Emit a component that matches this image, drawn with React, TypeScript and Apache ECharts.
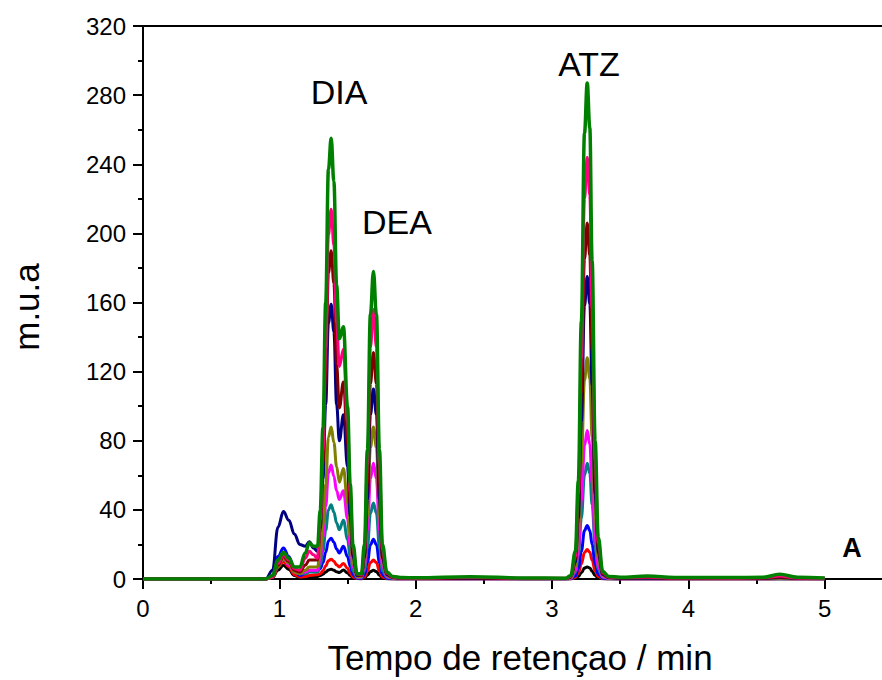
import React, { useEffect, useRef } from "react";
import * as echarts from "echarts";

// retention time grid (min)
const time = [
  0, 0.5, 0.9, 0.95, 0.99, 1.03, 1.07, 1.11, 1.15, 1.19, 1.22, 1.25, 1.28,
  1.30, 1.32, 1.34, 1.36, 1.38, 1.40, 1.42, 1.44, 1.47, 1.50, 1.52, 1.54, 1.57,
  1.602, 1.624, 1.646, 1.668, 1.69, 1.712, 1.734, 1.756, 1.789, 1.833, 1.899,
  2.0, 2.4, 2.8, 3.10, 3.137,
  3.171, 3.193, 3.215, 3.238, 3.258, 3.277, 3.294, 3.316, 3.339, 3.372, 3.417, 3.50,
  3.7, 3.9, 4.3, 4.55, 4.67, 4.8, 5.0,
];

const blackVals = [
  0, 0, 0, 1, 5, 8, 5.5, 2, 1, 1, 1.5, 1.5, 1.5,
  2, 2.8, 4, 5.2, 5.6, 5, 4.2, 3.7, 5.2, 3.6, 2, 0.8, 0.3,
  0.1, 0.55, 2.1, 4.3, 5, 4.3, 2.1, 0.55, 0.1, 0, 0,
  0, 0, 0, 0, 0.1,
  0.4, 1.4, 3.6, 6.3, 7, 6.4, 4.5, 2, 0.6, 0.1, 0, 0,
  0, 0, 0, 0, 0, 0, 0,
];
const redVals = [
  0, 0, 0, 1, 7, 10, 7, 2.5, 1.2, 1.5, 2, 2.3, 2.5,
  3, 4.8, 7.5, 10.6, 11.4, 10.3, 8.2, 7, 9, 6.2, 3.4, 1.2, 0.3,
  0.2, 1.2, 4.6, 9.5, 11, 9.5, 4.6, 1.2, 0.3, 0.1, 0,
  0, 0.1, 0, 0, 0.1,
  0.9, 3.4, 8.8, 15.3, 17, 15.5, 10.9, 4.8, 1.4, 0.3, 0.1, 0,
  0.1, 0, 0, 0, 0.1, 0, 0,
];
const blueVals = [
  0, 0, 0, 2, 13, 18, 13, 5, 2, 3, 4.5, 4.5, 4.5,
  6, 9.5, 15.5, 22, 23.6, 21.2, 17.3, 15, 19, 13, 7.2, 2.6, 0.5,
  0.4, 2.5, 9.7, 19.8, 23, 19.8, 9.7, 2.5, 0.5, 0.1, 0.1,
  0.1, 0.1, 0.1, 0.1, 0.2,
  1.7, 6.2, 16, 28, 31, 28, 20, 8.7, 2.6, 0.5, 0.2, 0.1,
  0.1, 0.1, 0.1, 0.1, 0.2, 0.1, 0.1,
];
const tealVals = [
  0, 0, 0, 1, 8, 12, 9, 4, 3, 3, 4, 4, 4,
  8, 16, 28, 40, 43, 38.7, 32.4, 28.5, 34, 23, 13, 4.7, 0.8,
  0.8, 4.8, 18.5, 38, 44, 38, 18.5, 4.8, 1, 0.3, 0.1,
  0.1, 0.1, 0.1, 0.1, 0.3,
  3.7, 13.4, 35, 60, 67, 61, 43, 19, 5.7, 1, 0.3, 0.1,
  0.1, 0.1, 0.1, 0.1, 0.2, 0.1, 0.1,
];
const magentaVals = [
  0, 0, 0, 1, 8, 12, 8, 4, 3, 4, 5, 5, 5,
  12, 24, 42, 61.4, 66, 59.4, 51, 46, 51, 35, 19, 7, 1.2,
  1.2, 7.4, 28, 58, 67, 58, 28, 7.4, 1.5, 0.5, 0.2,
  0.2, 0.2, 0.1, 0.1, 0.5,
  4.7, 17, 45, 77, 86, 78, 55, 24, 7.3, 1.3, 0.4, 0.2,
  0.2, 0.1, 0.1, 0.1, 0.4, 0.1, 0.1,
];
const oliveVals = [
  0, 0, 0, 1, 7, 12, 9, 4, 3, 5, 7, 7, 7,
  16, 31, 55, 82, 88, 79, 65, 56, 64, 44, 24, 9, 1.5,
  1.5, 10, 37, 76, 88, 76, 37, 10, 2, 0.6, 0.3,
  0.2, 0.3, 0.2, 0.2, 0.7,
  7, 26, 67, 115, 128, 116, 82, 36, 11, 2, 0.6, 0.3,
  0.3, 0.2, 0.2, 0.2, 0.5, 0.2, 0.1,
];
const navyVals = [
  0, 0, 0, 5, 30, 39, 34, 26, 20, 19, 21.5, 18, 16,
  29, 58, 101, 148, 159, 143, 101, 80, 95, 65, 36, 13, 2,
  2, 12, 46, 95, 110, 95, 46, 12, 2.5, 0.8, 0.4,
  0.3, 0.4, 0.2, 0.2, 1,
  9.6, 35, 91, 158, 175, 159, 112, 49, 15, 2.6, 0.8, 0.4,
  0.5, 0.3, 0.3, 0.3, 0.8, 0.3, 0.2,
];
const maroonVals = [
  0, 0, 0, 1, 8, 13, 10, 5, 4, 8, 11, 11, 11,
  30, 67, 119, 177, 190, 171, 124, 99, 114, 78, 43, 16, 2.5,
  2, 14, 55, 113, 131, 113, 55, 14, 3, 1, 0.5,
  0.3, 0.6, 0.3, 0.3, 1.2,
  11, 41, 107, 185, 206, 187, 132, 58, 17.5, 3.1, 1, 0.6,
  0.8, 0.4, 0.4, 0.5, 1.2, 0.4, 0.3,
];
const pinkVals = [
  0, 0, 0, 1, 9, 14, 11, 6, 5, 12, 16, 14, 12,
  34, 74, 133, 199, 214, 193, 148, 123, 133, 91, 50, 18, 3,
  2.5, 17, 66, 134, 156, 134, 66, 17, 3.5, 1.2, 0.6,
  0.5, 1.0, 0.5, 0.4, 1.5,
  13, 49, 127, 220, 244, 222, 156, 68, 21, 3.7, 1.2, 0.8,
  1.2, 0.6, 0.5, 0.7, 1.8, 0.6, 0.4,
];
const greenVals = [
  0, 0, 0, 2, 11, 15.5, 12, 7, 7, 15, 21, 19, 19,
  40, 88, 160, 237, 255, 230, 170, 139, 146, 100, 55, 20, 3,
  3, 20, 75, 153, 178, 153, 75, 20, 4, 1.5, 0.8,
  0.7, 1.3, 0.6, 0.5, 2,
  16, 57, 149, 258, 287, 261, 184, 80, 24, 4.3, 1.5, 1.0,
  1.7, 0.9, 0.8, 1.0, 2.8, 1.0, 0.6,
];

const seriesList = [
  { name: "s1", color: "#000000", width: 3, values: blackVals },
  { name: "s2", color: "#FF0000", width: 3, values: redVals },
  { name: "s3", color: "#0000FF", width: 3, values: blueVals },
  { name: "s4", color: "#008080", width: 3, values: tealVals },
  { name: "s5", color: "#FF00FF", width: 3, values: magentaVals },
  { name: "s6", color: "#808000", width: 3, values: oliveVals },
  { name: "s7", color: "#000080", width: 3, values: navyVals },
  { name: "s8", color: "#800000", width: 3, values: maroonVals },
  { name: "s9", color: "#FF007F", width: 3, values: pinkVals },
  { name: "s10", color: "#008000", width: 3.5, values: greenVals },
];

const xMajorTicks = [0, 1, 2, 3, 4, 5];
const xMinorTicks = [0.5, 1.5, 2.5, 3.5, 4.5];

const peakLabels = [
  { text: "DIA", x: 339, y: 92 },
  { text: "DEA", x: 397, y: 222 },
  { text: "ATZ", x: 589, y: 64 },
];

const FONT = "'Liberation Sans', Arial, Helvetica, sans-serif";

export default function App() {
  const ref = useRef<HTMLDivElement>(null);
  useEffect(() => {
    document.body.style.margin = "0";
    if (!ref.current) return;
    const chart = echarts.init(ref.current, undefined, { renderer: "svg" });
    const grid = { left: 143, top: 26, right: 0, bottom: 101 };
    const xBase = { type: "value", min: 0, max: 5.42, gridIndex: 0 };
    chart.setOption({
      animation: false,
      backgroundColor: "#ffffff",
      grid,
      xAxis: [
        {
          ...xBase,
          position: "bottom",
          axisLine: { show: true, onZero: false, lineStyle: { color: "#000", width: 2 } },
          axisTick: { show: true, inside: false, length: 10, customValues: xMajorTicks, lineStyle: { color: "#000", width: 2 } },
          axisLabel: { show: true, customValues: xMajorTicks, fontSize: 24, fontFamily: FONT, color: "#000", margin: 17 },
          splitLine: { show: false },
        },
        {
          ...xBase,
          position: "bottom",
          axisLine: { show: false, onZero: false },
          axisTick: { show: true, inside: false, length: 5, customValues: xMinorTicks, lineStyle: { color: "#000", width: 2 } },
          axisLabel: { show: false },
          splitLine: { show: false },
        },
        {
          ...xBase,
          position: "top",
          axisLine: { show: true, onZero: false, lineStyle: { color: "#000", width: 2 } },
          axisTick: { show: false },
          axisLabel: { show: false },
          splitLine: { show: false },
        },
      ],
      yAxis: {
        type: "value",
        min: 0,
        max: 320,
        interval: 40,
        axisLine: { show: true, onZero: false, lineStyle: { color: "#000", width: 2 } },
        axisTick: { show: true, inside: false, length: 10, lineStyle: { color: "#000", width: 2 } },
        minorTick: { show: true, splitNumber: 2, length: 5, lineStyle: { color: "#000", width: 2 } },
        axisLabel: { fontSize: 24, fontFamily: FONT, color: "#000", margin: 17 },
        splitLine: { show: false },
        minorSplitLine: { show: false },
      },
      series: seriesList.map((s) => ({
        name: s.name,
        type: "line",
        xAxisIndex: 0,
        data: time.map((t, i) => [t, s.values[i]]),
        smooth: 0.4,
        smoothMonotone: "x",
        symbol: "none",
        clip: true,
        lineStyle: { color: s.color, width: s.width },
        itemStyle: { color: s.color },
      })),
      graphic: [
        ...peakLabels.map((p) => ({
          type: "text",
          x: p.x,
          y: p.y,
          style: { text: p.text, fontSize: 34, fontFamily: FONT, fill: "#000", textAlign: "center", textVerticalAlign: "middle" },
        })),
        {
          type: "text",
          x: 852,
          y: 548,
          style: { text: "A", fontSize: 27, fontWeight: "bold", fontFamily: FONT, fill: "#000", textAlign: "center", textVerticalAlign: "middle" },
        },
        {
          type: "text",
          x: 520,
          y: 657,
          style: { text: "Tempo de retençao / min", fontSize: 35, fontFamily: FONT, fill: "#000", textAlign: "center", textVerticalAlign: "middle" },
        },
        {
          type: "text",
          x: 26,
          y: 307,
          rotation: Math.PI / 2,
          style: { text: "m.u.a", fontSize: 35, fontFamily: FONT, fill: "#000", textAlign: "center", textVerticalAlign: "middle" },
        },
      ],
    });
    return () => chart.dispose();
  }, []);
  return <div ref={ref} style={{ width: 882, height: 680 }} />;
}
